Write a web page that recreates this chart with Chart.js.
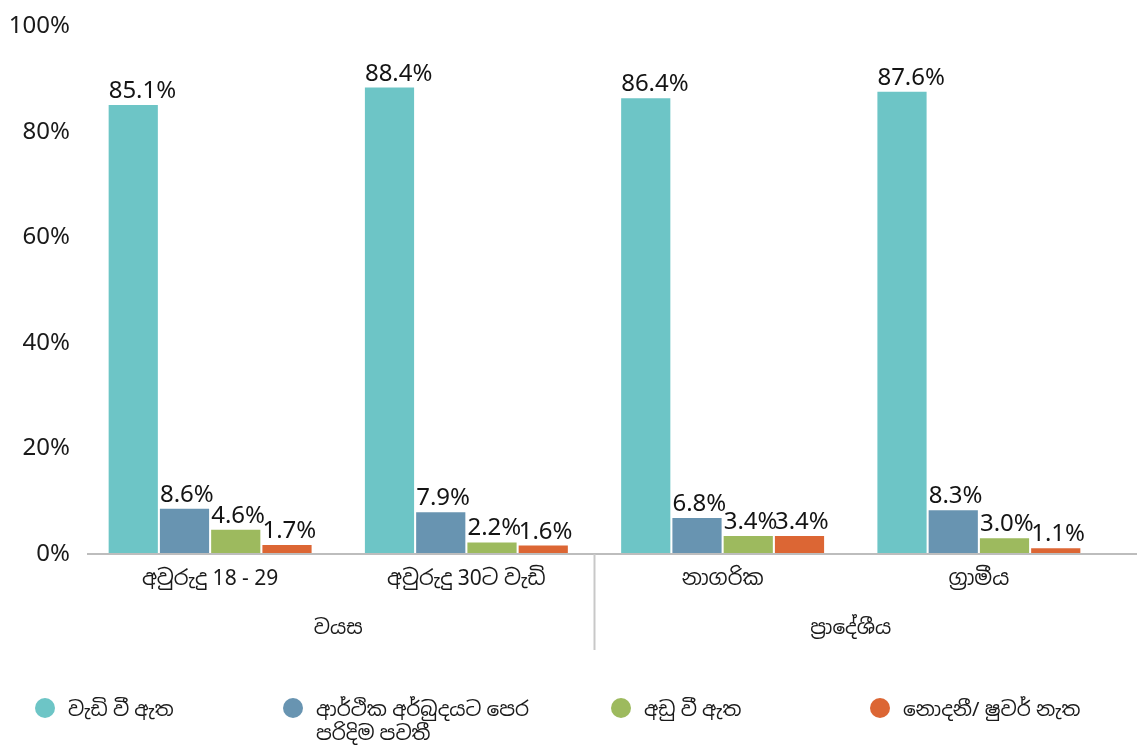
<!DOCTYPE html>
<html>
<head>
<meta charset="utf-8">
<script src="https://cdn.jsdelivr.net/npm/chart.js@4.4.1/dist/chart.umd.min.js"></script>
<style>
  html, body { margin: 0; padding: 0; background: #fff; }
  #wrap { position: relative; width: 1137px; height: 745px; }
  #legend { position: absolute; left: 0; top: 0; width: 100%; height: 100%; pointer-events: none; }
  .item { position: absolute; top: 697px; display: flex; align-items: flex-start;
          font: 20px "Noto Sans", "Noto Sans Sinhala", sans-serif; color: #1a1a1a; line-height: 24px; }
  .dot { width: 20px; height: 20px; border-radius: 50%; margin-right: 13px; margin-top: 1px; flex: none; }
</style>
</head>
<body>
<div id="wrap">
  <canvas id="chart" width="1137" height="745"></canvas>
  <div id="legend"></div>
</div>
<script>
const FONT = '"Noto Sans", "Noto Sans Sinhala", sans-serif';

const categories = ['අවුරුදු 18 - 29', 'අවුරුදු 30ට වැඩි', 'නාගරික', 'ග්‍රාමීය'];
const groupLabels = ['වයස', 'ප්‍රාදේශීය'];
const groupSpans = [[0, 1], [2, 3]];

const seriesNames = ['වැඩි වී ඇත', 'ආර්ථික අර්බුදයට පෙර පරිදිම පවතී', 'අඩු වී ඇත', 'නොදනී/ ෂුවර් නැත'];
const seriesColors = ['#6dc5c6', '#6894b1', '#9dba5e', '#dc6634'];
const increased = [85.1, 88.4, 86.4, 87.6];
const unchanged = [8.6, 7.9, 6.8, 8.3];
const decreased = [4.6, 2.2, 3.4, 3.0];
const notSure = [1.7, 1.6, 3.4, 1.1];

const yTicks = [0, 20, 40, 60, 80, 100];

// legend layout: left edge of each entry and the text width before wrapping
const legendLeft = [35, 283, 611, 870];
const legendTextWidth = [200, 250, 200, 240];

// percentage written above each bar, starting at the bar's left edge
const valueLabels = {
  id: 'valueLabels',
  afterDatasetsDraw(chart) {
    const ctx = chart.ctx;
    ctx.save();
    ctx.font = '24px ' + FONT;
    ctx.fillStyle = '#141414';
    ctx.textAlign = 'left';
    ctx.textBaseline = 'alphabetic';
    chart.data.datasets.forEach((ds, i) => {
      chart.getDatasetMeta(i).data.forEach((bar, j) => {
        ctx.fillText(ds.data[j].toFixed(1) + '%', bar.x - bar.width / 2, bar.y - 7);
      });
    });
    ctx.restore();
  }
};

// baseline, group separators and group names under the category labels
const groupAxis = {
  id: 'groupAxis',
  afterDraw(chart) {
    const { ctx, chartArea, scales } = chart;
    const x = scales.x;
    ctx.save();
    ctx.strokeStyle = '#bdbdbd';
    ctx.lineWidth = 2;
    ctx.beginPath();
    ctx.moveTo(chartArea.left + 5, chartArea.bottom);
    ctx.lineTo(chart.width, chartArea.bottom);
    ctx.stroke();

    ctx.strokeStyle = '#c8c8c8';
    for (let g = 1; g < groupSpans.length; g++) {
      const sx = (x.getPixelForValue(groupSpans[g - 1][1]) + x.getPixelForValue(groupSpans[g][0])) / 2;
      ctx.beginPath();
      ctx.moveTo(sx, chartArea.bottom);
      ctx.lineTo(sx, chartArea.bottom + 96);
      ctx.stroke();
    }

    ctx.font = '20px ' + FONT;
    ctx.fillStyle = '#1a1a1a';
    ctx.textAlign = 'center';
    ctx.textBaseline = 'middle';
    groupLabels.forEach((name, g) => {
      const cx = (x.getPixelForValue(groupSpans[g][0]) + x.getPixelForValue(groupSpans[g][1])) / 2;
      ctx.fillText(name, cx, chartArea.bottom + 74);
    });
    ctx.restore();
  }
};

const seriesData = [increased, unchanged, decreased, notSure];

new Chart(document.getElementById('chart'), {
  type: 'bar',
  data: {
    labels: categories,
    datasets: seriesData.map((d, i) => ({
      label: seriesNames[i],
      data: d,
      backgroundColor: seriesColors[i],
      barPercentage: 0.96,
      categoryPercentage: 0.8
    }))
  },
  options: {
    responsive: false,
    animation: false,
    layout: { padding: { top: 8, right: 30, bottom: 0, left: 0 } },
    plugins: { legend: { display: false }, tooltip: { enabled: false } },
    scales: {
      x: {
        grid: { display: false, drawTicks: false },
        border: { display: false },
        ticks: { color: '#1a1a1a', font: { family: FONT, size: 21 }, padding: 12, maxRotation: 0 },
        afterFit(scale) { scale.height = 191; }
      },
      y: {
        min: 0,
        max: 100,
        grid: { display: false, drawTicks: false },
        border: { display: false },
        afterBuildTicks(scale) { scale.ticks = yTicks.map(v => ({ value: v })); },
        ticks: {
          color: '#1a1a1a',
          font: { family: FONT, size: 24 },
          padding: 12,
          callback: v => v + '%'
        },
        afterFit(scale) { scale.width = 82; }
      }
    }
  },
  plugins: [valueLabels, groupAxis]
});

// legend built from the series names and colours
const legend = document.getElementById('legend');
seriesNames.forEach((name, i) => {
  const item = document.createElement('div');
  item.className = 'item';
  item.style.left = legendLeft[i] + 'px';
  const dot = document.createElement('span');
  dot.className = 'dot';
  dot.style.background = seriesColors[i];
  const text = document.createElement('span');
  text.textContent = name;
  text.style.maxWidth = legendTextWidth[i] + 'px';
  item.appendChild(dot);
  item.appendChild(text);
  legend.appendChild(item);
});
</script>
</body>
</html>
